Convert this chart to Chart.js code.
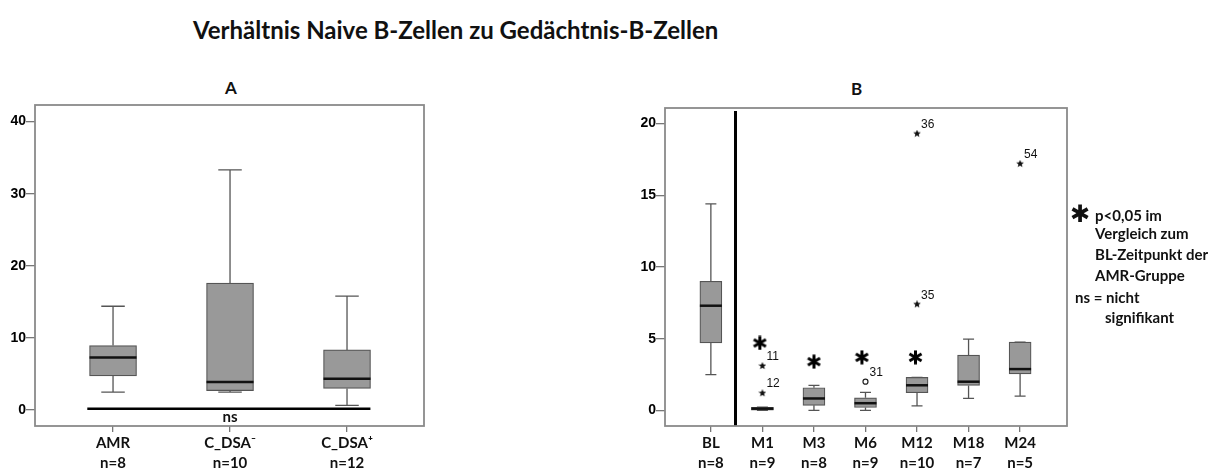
<!DOCTYPE html>
<html>
<head>
<meta charset="utf-8">
<script src="https://cdn.jsdelivr.net/npm/chart.js@4"></script>
<style>
body { margin: 0; width: 1220px; height: 472px; background: #fff; position: relative; overflow: hidden; font-family: Lato, sans-serif; color: #111; }
.t { position: absolute; font-weight: bold; white-space: nowrap; }
#title { left: 193px; top: 15px; font-size: 24px; }
#chartA { position: absolute; left: 0; top: 0; }
#chartB { position: absolute; left: 620px; top: 0; }
.leg { position: absolute; font-weight: bold; font-size: 15px; white-space: nowrap; }
</style>
</head>
<body>
<div id="title" class="t">Verhältnis Naive B-Zellen zu Gedächtnis-B-Zellen</div>
<div class="t" style="left:225px;top:77px;font-size:17px;">A</div>
<div class="t" style="left:851px;top:78px;font-size:17px;">B</div>
<canvas id="chartA" width="440" height="472"></canvas>
<canvas id="chartB" width="460" height="472"></canvas>
<div class="leg" style="left:1070px;top:200px;font-size:24px;font-family:'DejaVu Sans';">✱</div>
<div class="leg" style="left:1095px;top:206px;">p&lt;0,05 im</div>
<div class="leg" style="left:1095px;top:224px;">Vergleich zum</div>
<div class="leg" style="left:1095px;top:245px;">BL-Zeitpunkt der</div>
<div class="leg" style="left:1095px;top:266px;">AMR-Gruppe</div>
<div class="leg" style="left:1075px;top:288px;">ns = nicht</div>
<div class="leg" style="left:1105px;top:308px;">signifikant</div>
<script>
// --- data, panel A ---
const catsA = ['AMR', 'C_DSA⁻', 'C_DSA⁺'];
const nA = [8, 10, 12];
const minA = [2.5, 2.5, 0.65];
const q1A = [4.75, 2.7, 3.0];
const medA = [7.3, 3.9, 4.35];
const q3A = [8.95, 17.6, 8.35];
const maxA = [14.4, 33.3, 15.8];
const ticksA = [0, 10, 20, 30, 40];
const nsLine = [-0.22, 2.2, 0.2]; // from, to, y

// --- data, panel B ---
const catsB = ['BL', 'M1', 'M3', 'M6', 'M12', 'M18', 'M24'];
const nB = [8, 9, 8, 9, 10, 7, 5];
const minB = [2.5, 0, 0, 0, 0.32, 0.84, 1.0];
const q1B = [4.7, 0.02, 0.35, 0.2, 1.23, 1.74, 2.55];
const medB = [7.3, 0.12, 0.83, 0.5, 1.75, 2.0, 2.88];
const q3B = [9.0, 0.22, 1.58, 0.88, 2.3, 3.85, 4.76];
const maxB = [14.4, 0.22, 1.75, 1.25, 2.3, 4.97, 4.76];
const ticksB = [0, 5, 10, 15, 20];
const extremeCat = [1, 1, 4, 4, 6];
const extremeVal = [3.1, 1.2, 19.3, 7.4, 17.2];
const extremeId = ['11', '12', '36', '35', '54'];
const outlierCat = [3];
const outlierVal = [2.0];
const outlierId = ['31'];
const sigCat = [0.95, 2, 2.93, 3.97];
const sigVal = [4.7, 3.4, 3.7, 3.7];
const dividerB = 0.478;

// marker images
function makeAsterisk(size, lw) {
    const c = document.createElement('canvas');
    c.width = size; c.height = size;
    const g = c.getContext('2d');
    g.strokeStyle = '#000';
    g.lineWidth = lw;
    const r = size / 2 - 0.5, m = size / 2;
    for (let k = 0; k < 3; k++) {
        const a = Math.PI / 2 + k * Math.PI / 3;
        g.beginPath();
        g.moveTo(m + r * Math.cos(a), m + r * Math.sin(a));
        g.lineTo(m - r * Math.cos(a), m - r * Math.sin(a));
        g.stroke();
    }
    return c;
}
function makeStar(size) {
    const c = document.createElement('canvas');
    c.width = size; c.height = size;
    const g = c.getContext('2d');
    const m = size / 2, R = size / 2, r = R * 0.45;
    g.fillStyle = '#111';
    g.beginPath();
    for (let k = 0; k < 10; k++) {
        const a = -Math.PI / 2 + k * Math.PI / 5;
        const rr = k % 2 ? r : R;
        g.lineTo(m + rr * Math.cos(a), m + rr * Math.sin(a));
    }
    g.closePath();
    g.fill();
    return c;
}

const boxFill = '#999999';
const boxLine = '#555555';

// whiskers, medians, frame, extra marks
const boxPlugin = {
    id: 'boxExtras',
    afterDatasetsDraw(chart) {
        const o = chart.options.plugins.boxExtras;
        const ctx = chart.ctx;
        const xs = chart.scales.x, ys = chart.scales.y;
        const a = chart.chartArea;
        ctx.save();
        ctx.lineCap = 'butt';
        for (let i = 0; i < o.min.length; i++) {
            const x = xs.getPixelForValue(i);
            const cap = o.boxW / 2 / 2;
            ctx.strokeStyle = boxLine;
            ctx.lineWidth = 1.3;
            ctx.beginPath();
            ctx.moveTo(x, ys.getPixelForValue(o.q3[i]));
            ctx.lineTo(x, ys.getPixelForValue(o.max[i]));
            ctx.moveTo(x, ys.getPixelForValue(o.q1[i]));
            ctx.lineTo(x, ys.getPixelForValue(o.min[i]));
            ctx.moveTo(x - cap, ys.getPixelForValue(o.max[i]));
            ctx.lineTo(x + cap, ys.getPixelForValue(o.max[i]));
            ctx.moveTo(x - cap, ys.getPixelForValue(o.min[i]));
            ctx.lineTo(x + cap, ys.getPixelForValue(o.min[i]));
            ctx.stroke();
            ctx.strokeStyle = '#111';
            ctx.lineWidth = 2.5;
            ctx.beginPath();
            ctx.moveTo(x - o.boxW / 2, ys.getPixelForValue(o.med[i]));
            ctx.lineTo(x + o.boxW / 2, ys.getPixelForValue(o.med[i]));
            ctx.stroke();
        }
        if (o.ns) {
            const yy = ys.getPixelForValue(o.ns[2]);
            ctx.strokeStyle = '#000';
            ctx.lineWidth = 2.5;
            ctx.beginPath();
            ctx.moveTo(xs.getPixelForValue(o.ns[0]), yy);
            ctx.lineTo(xs.getPixelForValue(o.ns[1]), yy);
            ctx.stroke();
            ctx.fillStyle = '#111';
            ctx.font = 'bold 15px Lato';
            ctx.textAlign = 'center';
            ctx.textBaseline = 'middle';
            ctx.fillText('ns', xs.getPixelForValue(1), yy + 8);
        }
        if (o.divider !== undefined) {
            const xx = xs.getPixelForValue(o.divider);
            ctx.strokeStyle = '#000';
            ctx.lineWidth = 3;
            ctx.beginPath();
            ctx.moveTo(xx, a.top + 3);
            ctx.lineTo(xx, a.bottom);
            ctx.stroke();
        }
        if (o.labels) {
            ctx.fillStyle = '#111';
            ctx.font = '12px "Liberation Sans"';
            ctx.textAlign = 'left';
            ctx.textBaseline = 'middle';
            o.labels.forEach(l => {
                ctx.fillText(l[2], xs.getPixelForValue(l[0]) + 4, ys.getPixelForValue(l[1]) - 9);
            });
        }
        ctx.strokeStyle = '#8a8a8a';
        ctx.lineWidth = 1.8;
        ctx.strokeRect(a.left, a.top, a.right - a.left, a.bottom - a.top);
        ctx.restore();
    }
};

function makeOptions(xmin, xmax, ymin, ymax, yticks, cats, ns, yWidth, padTop, padRight, extras) {
    return {
        responsive: false,
        animation: false,
        layout: { padding: { top: padTop, right: padRight, left: 0, bottom: 0 } },
        plugins: {
            legend: { display: false },
            tooltip: { enabled: false },
            boxExtras: extras
        },
        scales: {
            x: {
                type: 'linear',
                offset: false,
                min: xmin, max: xmax,
                afterBuildTicks: s => { s.ticks = cats.map((c, i) => ({ value: i })); },
                afterFit: s => { s.height = 46; },
                grid: { offset: false, drawOnChartArea: false, drawTicks: true, tickLength: 6, color: '#777', lineWidth: 1.3 },
                border: { display: false },
                ticks: {
                    autoSkip: false, maxRotation: 0, padding: 1,
                    color: '#111',
                    font: { family: 'Lato', weight: 'bold', size: 15, lineHeight: 1.35 },
                    callback: v => [cats[v], 'n=' + ns[v]]
                }
            },
            y: {
                min: ymin, max: ymax,
                afterBuildTicks: s => { s.ticks = yticks.map(v => ({ value: v })); },
                afterFit: s => { s.width = yWidth; },
                grid: { drawOnChartArea: false, drawTicks: true, tickLength: 9, color: '#777', lineWidth: 1.3 },
                border: { display: false },
                ticks: {
                    padding: 0, color: '#000',
                    font: { family: 'Liberation Sans', weight: 'bold', size: 14 }
                }
            }
        }
    };
}

function boxDataset(q1, q3, w) {
    return {
        type: 'bar',
        data: q1.map((v, i) => ({ x: i, y: [v, q3[i]] })),
        backgroundColor: boxFill,
        borderColor: boxLine,
        borderWidth: 1.2,
        borderSkipped: false,
        barThickness: w
    };
}

new Chart(document.getElementById('chartA'), {
    type: 'bar',
    data: { datasets: [boxDataset(q1A, q3A, 47)] },
    options: makeOptions(-0.667, 2.658, -2.2, 42.3, ticksA, catsA, nA, 35, 105, 16,
        { min: minA, q1: q1A, med: medA, q3: q3A, max: maxA, boxW: 47, ns: nsLine }),
    plugins: [boxPlugin]
});

const labelsB = extremeCat.map((c, i) => [c, extremeVal[i], extremeId[i]])
    .concat(outlierCat.map((c, i) => [c, outlierVal[i], outlierId[i]]));

new Chart(document.getElementById('chartB'), {
    type: 'bar',
    data: {
        datasets: [
            boxDataset(q1B, q3B, 22),
            {
                type: 'scatter',
                data: extremeCat.map((c, i) => ({ x: c, y: extremeVal[i] })),
                pointStyle: makeStar(8),
                pointRadius: 4
            },
            {
                type: 'scatter',
                data: outlierCat.map((c, i) => ({ x: c, y: outlierVal[i] })),
                pointStyle: 'circle', pointRadius: 2.5,
                backgroundColor: '#fff', borderColor: '#222', borderWidth: 1.2
            },
            {
                type: 'scatter',
                data: sigCat.map((c, i) => ({ x: c, y: sigVal[i] })),
                pointStyle: makeAsterisk(15, 3),
                pointRadius: 7
            }
        ]
    },
    options: makeOptions(-0.89, 6.91, -1.09, 21.09, ticksB, catsB, nB, 45, 108, 13,
        { min: minB, q1: q1B, med: medB, q3: q3B, max: maxB, boxW: 22, divider: dividerB, labels: labelsB }),
    plugins: [boxPlugin]
});
</script>
</body>
</html>
